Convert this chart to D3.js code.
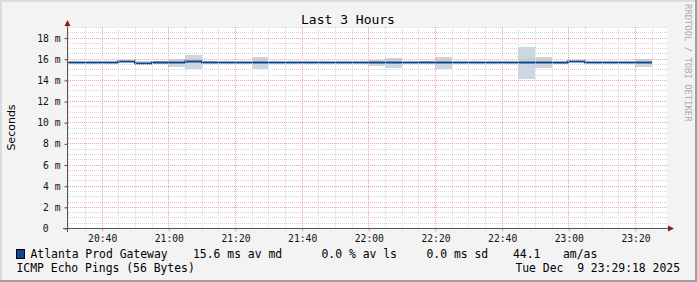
<!DOCTYPE html>
<html>
<head>
<meta charset="utf-8">
<script src="https://cdn.jsdelivr.net/npm/d3@7"></script>
<style>
  html, body { margin: 0; padding: 0; background: #f3f3f3; }
  svg { display: block; }
  text { font-family: "DejaVu Sans Mono", monospace; }
</style>
</head>
<body>
<div id="chart"></div>
<script>
// 5 minute steps, each value covers [t, t + 5min)
var day = "2025-12-09";
var times = ["20:25", "20:30", "20:35", "20:40", "20:45", "20:50", "20:55", "21:00", "21:05", "21:10",
             "21:15", "21:20", "21:25", "21:30", "21:35", "21:40", "21:45", "21:50", "21:55", "22:00",
             "22:05", "22:10", "22:15", "22:20", "22:25", "22:30", "22:35", "22:40", "22:45", "22:50",
             "22:55", "23:00", "23:05", "23:10", "23:15", "23:20"];
// median rtt in ms
var median = [15.65, 15.65, 15.65, 15.65, 15.78, 15.63, 15.65, 15.65, 15.75, 15.65,
              15.65, 15.65, 15.65, 15.65, 15.65, 15.65, 15.65, 15.65, 15.65, 15.65,
              15.65, 15.65, 15.65, 15.65, 15.65, 15.65, 15.65, 15.65, 15.65, 15.65,
              15.65, 15.75, 15.65, 15.65, 15.65, 15.65];
// smoke (spread of the pings) in ms, null = no spread
var smokeHi = [null, null, null, null, null, 15.74, 15.81, 16.00, 16.38, 15.81,
               null, null, 16.16, null, null, null, null, null, null, 15.88,
               16.04, null, 15.81, 16.16, null, null, null, null, 17.14, 16.16,
               15.69, null, null, null, null, 15.97];
var smokeLo = [null, null, null, null, null, 15.60, 15.47, 15.22, 15.03, 15.62,
               null, null, 15.03, null, null, null, null, null, null, 15.34,
               15.12, null, 15.66, 15.03, null, null, null, null, 14.08, 15.15,
               15.53, null, null, null, null, 15.25];
var yTicks = [0, 2, 4, 6, 8, 10, 12, 14, 16, 18];
var yMax = 19;
var startTime = "20:29:36", endTime = "23:29:36";

var title = "Last 3 Hours";
var yLabel = "Seconds";
var seriesName = "Atlanta Prod Gateway";
var legendStats = ["15.6 ms av md", "0.0 % av ls", "0.0 ms sd", "44.1", "am/as"];
var footLeft = "ICMP Echo Pings (56 Bytes)";
var footRight = "Tue Dec  9 23:29:18 2025";

var width = 697, height = 282,
    margins = {top: 27, left: 67, right: 30, bottom: 54},
    lineColor = "#0b4a8b",
    smokeColor = "#cad6e2",
    minorGrid = "#d6d6d6",
    majorGrid = "#f2a0a0",
    axisColor = "#555555",
    arrowColor = "#8b1a1a";

var parseT = d3.timeParse("%Y-%m-%d %H:%M");
var parseS = d3.timeParse("%Y-%m-%d %H:%M:%S");
var stepMs = 5 * 60 * 1000;

var data = times.map(function (t, i) {
    var d = parseT(day + " " + t);
    return {t: d, t2: new Date(+d + stepMs), md: median[i], hi: smokeHi[i], lo: smokeLo[i]};
});

var x = d3.scaleTime()
    .domain([parseS(day + " " + startTime), parseS(day + " " + endTime)])
    .range([margins.left, width - margins.right]);
var y = d3.scaleLinear()
    .domain([0, yMax])
    .range([height - margins.bottom, margins.top]);

var x0 = x.range()[0], x1 = x.range()[1],
    yB = y.range()[0], yT = y.range()[1];

var svg = d3.select("#chart").append("svg")
    .attr("width", width)
    .attr("height", height);

// background + 3d frame
svg.append("rect").attr("width", width).attr("height", height).attr("fill", "#f3f3f3");
svg.append("path").attr("d", "M0,1H" + width + "M1,0V" + height).attr("stroke", "#dcdcdc").attr("stroke-width", 2);
svg.append("path").attr("d", "M0," + (height - 1) + "H" + width + "M" + (width - 1) + ",0V" + height)
    .attr("stroke", "#9e9e9e").attr("stroke-width", 2);

// canvas
svg.append("rect")
    .attr("x", x0).attr("y", yT)
    .attr("width", x1 - x0).attr("height", yB - yT)
    .attr("fill", "#ffffff");

svg.append("defs").append("clipPath").attr("id", "plot-clip")
    .append("rect")
    .attr("x", x0).attr("y", yT)
    .attr("width", x1 - x0).attr("height", yB - yT);

var body = svg.append("g").attr("clip-path", "url(#plot-clip)");

// smoke
body.selectAll("rect.smoke")
    .data(data.filter(function (d) { return d.hi != null; }))
    .enter().append("rect")
    .attr("class", "smoke")
    .attr("x", function (d) { return Math.round(x(d.t)); })
    .attr("width", function (d) { return Math.round(x(d.t2)) - Math.round(x(d.t)); })
    .attr("y", function (d) { return Math.round(y(d.hi)); })
    .attr("height", function (d) { return Math.round(y(d.lo)) - Math.round(y(d.hi)); })
    .attr("fill", smokeColor);

// grid
function crisp(v) { return Math.round(v) + 0.5; }
var gridG = svg.append("g");
var minorY = d3.range(0.5, yMax + 0.01, 0.5).filter(function (v) { return v % 2 !== 0; });
var majorY = yTicks.filter(function (v) { return v > 0; });
var minorX = x.ticks(d3.timeMinute.every(5)).filter(function (d) { return d.getMinutes() % 20 !== 0; });
var majorX = x.ticks(d3.timeMinute.every(20));

gridG.selectAll("line.minor-y").data(minorY).enter().append("line")
    .attr("x1", x0 + 1).attr("x2", x1)
    .attr("y1", function (d) { return crisp(y(d)); })
    .attr("y2", function (d) { return crisp(y(d)); })
    .attr("stroke", minorGrid).attr("stroke-dasharray", "1,1");
gridG.selectAll("line.minor-x").data(minorX).enter().append("line")
    .attr("y1", yT).attr("y2", yB)
    .attr("x1", function (d) { return crisp(x(d)); })
    .attr("x2", function (d) { return crisp(x(d)); })
    .attr("stroke", minorGrid).attr("stroke-dasharray", "1,1");
gridG.selectAll("line.major-y").data(majorY).enter().append("line")
    .attr("x1", x0 + 1).attr("x2", x1)
    .attr("y1", function (d) { return crisp(y(d)); })
    .attr("y2", function (d) { return crisp(y(d)); })
    .attr("stroke", majorGrid).attr("stroke-dasharray", "1,1");
gridG.selectAll("line.major-x").data(majorX).enter().append("line")
    .attr("y1", yT).attr("y2", yB)
    .attr("x1", function (d) { return crisp(x(d)); })
    .attr("x2", function (d) { return crisp(x(d)); })
    .attr("stroke", majorGrid).attr("stroke-dasharray", "1,1");

// median line
var pts = data.concat([{t: data[data.length - 1].t2, md: data[data.length - 1].md}]);
body.append("path")
    .datum(pts)
    .attr("fill", "none")
    .attr("stroke", lineColor)
    .attr("stroke-width", 2)
    .attr("d", d3.line()
        .x(function (d) { return Math.round(x(d.t)); })
        .y(function (d) { return Math.round(y(d.md)) + 0.5; })
        .curve(d3.curveStepAfter));

// axes
var yAxis = d3.axisLeft(y)
    .tickValues(yTicks)
    .tickSize(3)
    .tickPadding(4)
    .tickFormat(function (d) { return d === 0 ? "0" : d + " m"; });
var yAxisG = svg.append("g")
    .attr("transform", "translate(" + (x0 + 0.5) + ",0.5)")
    .call(yAxis);
yAxisG.select(".domain").remove();
yAxisG.selectAll(".tick line").attr("stroke", "#7a3a3a");
yAxisG.selectAll(".tick text")
    .attr("font-family", "DejaVu Sans Mono").attr("font-size", "9.7px").attr("fill", "#111")
    .attr("dx", function (d) { return d === 0 ? -12 : 0; });

var xAxis = d3.axisBottom(x)
    .ticks(d3.timeMinute.every(20))
    .tickSize(3)
    .tickPadding(4)
    .tickFormat(d3.timeFormat("%H:%M"));
var xAxisG = svg.append("g")
    .attr("transform", "translate(0.5," + (yB + 0.5) + ")")
    .call(xAxis);
xAxisG.select(".domain").remove();
xAxisG.selectAll(".tick line").attr("stroke", majorGrid);
xAxisG.selectAll(".tick text")
    .attr("font-family", "DejaVu Sans Mono").attr("font-size", "9.7px").attr("fill", "#111");

svg.append("line")
    .attr("x1", crisp(x0)).attr("x2", crisp(x0))
    .attr("y1", yB + 4).attr("y2", yT - 2)
    .attr("stroke", axisColor);
svg.append("line")
    .attr("x1", x0 - 4).attr("x2", x1 + 2)
    .attr("y1", crisp(yB)).attr("y2", crisp(yB))
    .attr("stroke", axisColor);
svg.append("path")
    .attr("d", "M" + (crisp(x0) - 3) + "," + (yT - 1) + "L" + (crisp(x0) + 3) + "," + (yT - 1) + "L" + crisp(x0) + "," + (yT - 7) + "Z")
    .attr("fill", arrowColor);
svg.append("path")
    .attr("d", "M" + (x1 + 1) + "," + (crisp(yB) - 3) + "L" + (x1 + 1) + "," + (crisp(yB) + 3) + "L" + (x1 + 7) + "," + crisp(yB) + "Z")
    .attr("fill", arrowColor);

// texts
svg.append("text")
    .attr("x", 348).attr("y", 24)
    .attr("text-anchor", "middle")
    .attr("font-size", "13px")
    .text(title);

svg.append("text")
    .attr("transform", "translate(15," + ((yT + yB) / 2) + ") rotate(-90)")
    .attr("text-anchor", "middle")
    .attr("font-size", "11px")
    .style("font-family", "'DejaVu Sans'")
    .text(yLabel);

svg.append("text")
    .attr("transform", "translate(685,4) rotate(90)")
    .attr("font-size", "8.9px")
    .attr("fill", "#a8a8a8")
    .text("RRDTOOL / TOBI OETIKER");

// legend
svg.append("rect")
    .attr("x", 16.5).attr("y", 249.5)
    .attr("width", 8).attr("height", 9)
    .attr("fill", lineColor)
    .attr("stroke", "#000");

var legendX = [30.5, 193, 321.5, 426.5, 513, 563];
var legendTexts = [seriesName].concat(legendStats);
svg.selectAll("text.legend").data(legendTexts).enter().append("text")
    .attr("class", "legend")
    .attr("x", function (d, i) { return legendX[i]; })
    .attr("y", 258)
    .attr("font-size", "11.4px")
    .text(function (d) { return d; });

svg.append("text")
    .attr("x", 16.5).attr("y", 272)
    .attr("font-size", "11.4px")
    .text(footLeft);
svg.append("text")
    .attr("x", 680).attr("y", 272)
    .attr("text-anchor", "end")
    .attr("font-size", "11.4px")
    .style("white-space", "pre")
    .text(footRight);
</script>
</body>
</html>
